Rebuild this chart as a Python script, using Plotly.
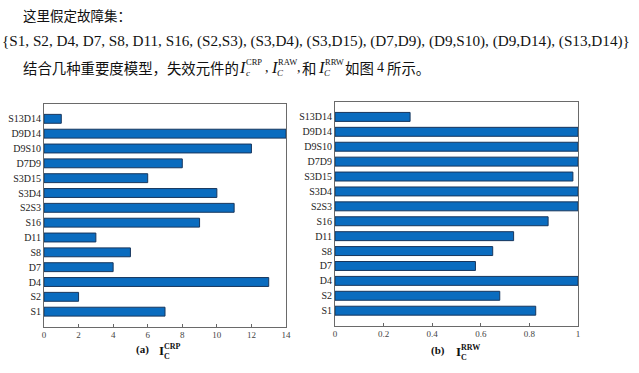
import plotly.graph_objects as go

# ---- data ----
categories = ["S1", "S2", "D4", "D7", "S8", "D11", "S16", "S2S3", "S3D4",
              "S3D15", "D7D9", "D9S10", "D9D14", "S13D14"]
crp_values = [7, 2, 13, 4, 5, 3, 9, 11, 10, 6, 8, 12, 14, 1]
rrw_values = [0.826, 0.678, 1.0, 0.578, 0.649, 0.735, 0.877, 1.0, 1.0,
              0.979, 1.0, 1.0, 1.0, 0.309]
crp_ticks = [0, 2, 4, 6, 8, 10, 12, 14]
rrw_ticks = [0, 0.2, 0.4, 0.6, 0.8, 1]
rrw_ticktext = ["0", "0.2", "0.4", "0.6", "0.8", "1"]

header1 = "这里假定故障集："
header2 = "{S1, S2, D4, D7, S8, D11, S16, (S2,S3), (S3,D4), (S3,D15), (D7,D9), (D9,S10), (D9,D14), (S13,D14)}"

W, H = 639, 373
SERIF = "Liberation Serif, Times New Roman, serif"
CJK = "Noto Sans CJK SC, sans-serif"
BAR_FILL = "#0a6cbf"
BAR_LINE = "#17365d"


def px(x):
    return x / W


def py(y):
    return 1 - y / H


fig = go.Figure()
fig.add_trace(go.Bar(y=categories, x=crp_values, orientation="h", width=0.6,
                     marker=dict(color=BAR_FILL, line=dict(color=BAR_LINE, width=1)),
                     xaxis="x", yaxis="y", showlegend=False, hoverinfo="skip"))
fig.add_trace(go.Bar(y=categories, x=rrw_values, orientation="h", width=0.6,
                     marker=dict(color=BAR_FILL, line=dict(color=BAR_LINE, width=1)),
                     xaxis="x2", yaxis="y2", showlegend=False, hoverinfo="skip"))

axis_common = dict(showline=True, mirror=True, linecolor="#6a6a6a", linewidth=1,
                   showgrid=False, zeroline=False, automargin=False)
xcommon = dict(axis_common, ticks="inside", ticklen=3, tickcolor="#666",
               tickfont=dict(family=SERIF, size=9, color="#444"))
ycommon = dict(axis_common, ticks="", type="category", range=[-1, 14],
               tickfont=dict(family=SERIF, size=10, color="#222"),
               categoryorder="array", categoryarray=categories)

fig.update_layout(
    width=W, height=H,
    margin=dict(l=0, r=0, t=0, b=0, autoexpand=False),
    paper_bgcolor="white", plot_bgcolor="white",
    bargap=0.4,
    xaxis=dict(xcommon, domain=[px(44), px(286)], range=[0, 14],
               tickvals=crp_ticks, anchor="y"),
    yaxis=dict(ycommon, domain=[py(326.5), py(104)], anchor="x"),
    xaxis2=dict(xcommon, domain=[px(335), px(578)], range=[0, 1],
                tickvals=rrw_ticks, ticktext=rrw_ticktext, anchor="y2"),
    yaxis2=dict(ycommon, domain=[py(325.6), py(102)], anchor="x2"),
)

annotations = []


def txt(text, x, y, size, family=SERIF, color="#111", xanchor="left"):
    annotations.append(dict(text=text, x=px(x), y=py(y), xref="paper", yref="paper",
                            xanchor=xanchor, yanchor="middle", showarrow=False,
                            borderpad=0,
                            font=dict(family=family, size=size, color=color)))


# header lines
txt(header1, 22, 15, 13.5, CJK)
txt(header2, 1, 41, 15.2, SERIF)
txt("结合几种重要度模型，失效元件的", 22, 67, 14.4, CJK)
txt("<i>I</i>", 238, 67, 16.5)
txt("CRP", 245, 62, 8.5)
txt("<i>c</i>", 245, 73, 9)
txt(",", 264, 67, 14)
txt("<i>I</i>", 270, 67, 16.5)
txt("RAW", 277, 62, 8.5)
txt("<i>C</i>", 276, 73, 9)
txt(",", 296, 67, 14)
txt("和", 301, 67, 14.4, CJK)
txt("<i>I</i>", 317, 67, 16.5)
txt("RRW", 324, 62, 8.5)
txt("<i>C</i>", 323, 73, 9)
txt("如图", 344, 67, 14.4, CJK)
txt("4", 376, 67, 14, SERIF)
txt("所示。", 386, 67, 14.4, CJK)

# axis titles
txt("<b>(a)</b>", 142, 349, 11, xanchor="center")
txt("<b>I</b>", 158, 350, 13)
txt("<b>CRP</b>", 163, 346, 8)
txt("<b>C</b>", 163, 356.5, 8)
txt("<b>(b)</b>", 438, 350, 11, xanchor="center")
txt("<b>I</b>", 455, 351, 13)
txt("<b>RRW</b>", 460, 347, 8)
txt("<b>C</b>", 460, 357.5, 8)

fig.update_layout(annotations=annotations)
fig.write_html(
    "out.html",
    config={"displayModeBar": False, "staticPlot": True},
    post_script="document.body.style.margin='0';document.body.style.padding='0';"
                "document.documentElement.style.overflow='hidden';",
)
